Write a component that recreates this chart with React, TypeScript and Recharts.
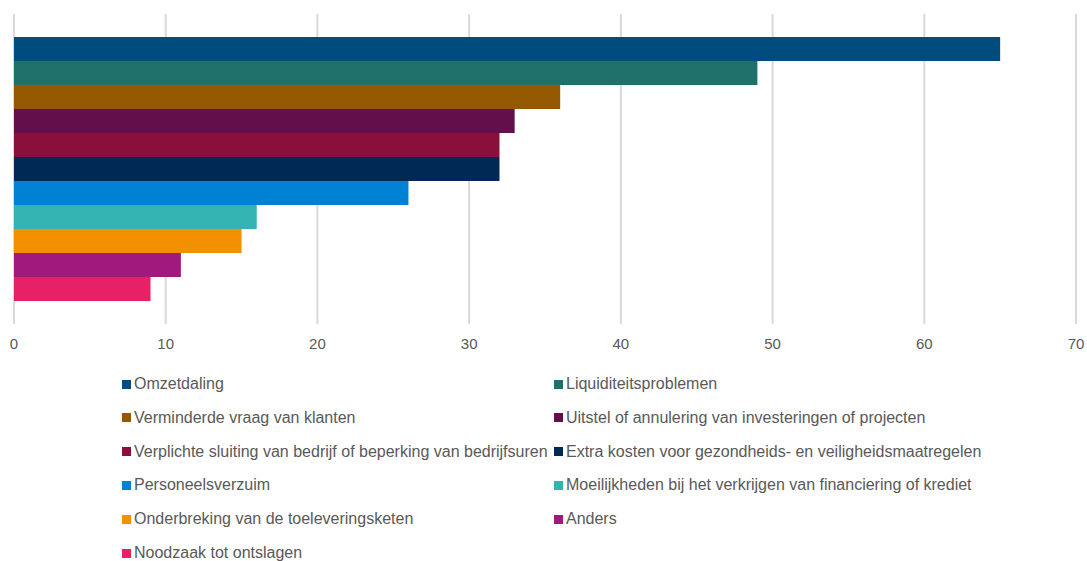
import { BarChart, Bar, XAxis, YAxis, CartesianGrid } from 'recharts';

const categories = ['Gevolgen'];

const seriesNames = [
  'Omzetdaling',
  'Liquiditeitsproblemen',
  'Verminderde vraag van klanten',
  'Uitstel of annulering van investeringen of projecten',
  'Verplichte sluiting van bedrijf of beperking van bedrijfsuren',
  'Extra kosten voor gezondheids- en veiligheidsmaatregelen',
  'Personeelsverzuim',
  'Moeilijkheden bij het verkrijgen van financiering of krediet',
  'Onderbreking van de toeleveringsketen',
  'Anders',
  'Noodzaak tot ontslagen',
];

const seriesValues = [65, 49, 36, 33, 32, 32, 26, 16, 15, 11, 9];

const seriesColors = [
  '#004C7F',
  '#1F6F6A',
  '#935800',
  '#620F4B',
  '#8A0F3A',
  '#002855',
  '#0082D4',
  '#33B4B2',
  '#F39000',
  '#A2197D',
  '#E82066',
];

const xTicks = [0, 10, 20, 30, 40, 50, 60, 70];

const data = categories.map((name) => {
  const row: Record<string, string | number> = { name };
  seriesNames.forEach((s, i) => {
    row[`s${i}`] = seriesValues[i];
  });
  return row;
});

const FONT = '"Liberation Sans", Arial, sans-serif';

export default function App() {
  return (
    <div style={{ position: 'absolute', left: 0, top: 0, width: 1087, height: 561, background: '#fff', fontFamily: FONT }}>
      <BarChart
        width={1087}
        height={561}
        data={data}
        layout="vertical"
        margin={{ top: 14, right: 11, left: 14, bottom: 207 }}
        barGap={0}
        barSize={24}
      >
        <CartesianGrid horizontal={false} stroke="#d9d9d9" strokeWidth={2} />
        <XAxis
          type="number"
          domain={[0, 70]}
          ticks={xTicks}
          axisLine={false}
          tickLine={false}
          tickMargin={8}
          height={30}
          tick={{ fill: '#595959', fontSize: 15, fontFamily: FONT }}
        />
        <YAxis type="category" dataKey="name" hide />
        {seriesNames.map((s, i) => (
          <Bar key={s} dataKey={`s${i}`} name={s} fill={seriesColors[i]} isAnimationActive={false} />
        ))}
      </BarChart>
      {seriesNames.map((s, i) => {
        const col = i % 2;
        const row = Math.floor(i / 2);
        return (
          <div
            key={s}
            style={{
              position: 'absolute',
              left: col === 0 ? 122 : 554,
              top: 374 + row * 33.8,
              height: 20,
              display: 'flex',
              alignItems: 'center',
              whiteSpace: 'nowrap',
              fontSize: 16,
              color: '#595959',
            }}
          >
            <span style={{ display: 'inline-block', width: 9, height: 9, background: seriesColors[i], marginRight: 3 }} />
            {s}
          </div>
        );
      })}
    </div>
  );
}
